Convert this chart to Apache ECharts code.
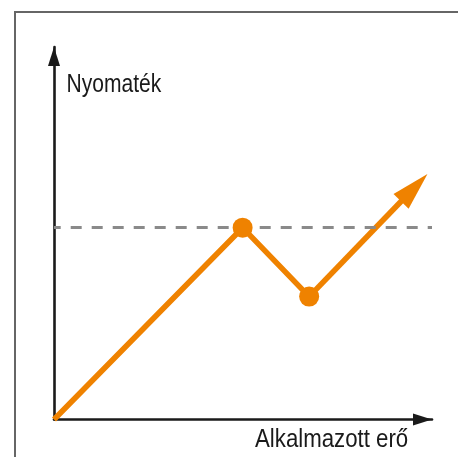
<!DOCTYPE html>
<html>
<head>
<meta charset="utf-8">
<script src="https://cdn.jsdelivr.net/npm/echarts@6/dist/echarts.min.js"></script>
<style>
  html, body { margin: 0; padding: 0; background: #fff; }
  #chart { width: 458px; height: 457px; }
</style>
</head>
<body>
<div id="chart"></div>
<script>
// Torque response to applied force (schematic, arbitrary units)
const pathPoints = [[0, 0], [49.9, 51.5], [67.5, 33.0]];   // origin, peak, dip
const arrowTip = [98.8, 65.9];                               // where the rising trend points
const thresholdLevel = 51.5;                                 // dashed reference level
const thresholdSpan = [0, 100];
const yAxisTitle = 'Nyomaték';
const xAxisTitle = 'Alkalmazott erő';

const ORANGE = '#ef8200';
const AXIS = '#1a1a1a';
const FONT = '"Liberation Sans", Arial, sans-serif';
const TREND_WIDTH = 5.6;

// plain triangle pointing "up"; the axis code rotates it along each axis
const AXIS_HEAD = 'path://M6,0 L12,19 L0,19 Z';
const HEAD_LEN = 38;
const HEAD_WIDTH = 21;

const chart = echarts.init(document.getElementById('chart'), null, { renderer: 'canvas' });

const axisCommon = {
  type: 'value',
  min: 0,
  max: 100,
  axisTick: { show: false },
  axisLabel: { show: false },
  splitLine: { show: false },
  axisLine: {
    show: true,
    symbol: ['none', AXIS_HEAD],
    symbolSize: [12, 19],
    symbolOffset: [0, -9.5],
    lineStyle: { color: AXIS, width: 2.6 }
  }
};

// last leg of the trend: a thick segment finished by a triangular head at the tip
function renderTrendArrow(params, api) {
  const p0 = api.coord([api.value(0), api.value(1)]);
  const p1 = api.coord([api.value(2), api.value(3)]);
  const dx = p1[0] - p0[0];
  const dy = p1[1] - p0[1];
  const len = Math.sqrt(dx * dx + dy * dy);
  const ux = dx / len, uy = dy / len;
  const nx = -uy, ny = ux;
  const bx = p1[0] - ux * HEAD_LEN;
  const by = p1[1] - uy * HEAD_LEN;
  const hw = HEAD_WIDTH / 2;
  return {
    type: 'group',
    children: [
      {
        type: 'line',
        shape: { x1: p0[0], y1: p0[1], x2: bx + ux * 3, y2: by + uy * 3 },
        style: { stroke: ORANGE, lineWidth: TREND_WIDTH, fill: null }
      },
      {
        type: 'polygon',
        shape: { points: [[p1[0], p1[1]], [bx + nx * hw, by + ny * hw], [bx - nx * hw, by - ny * hw]] },
        style: { fill: ORANGE, stroke: null }
      }
    ]
  };
}

const lastPoint = pathPoints[pathPoints.length - 1];

chart.setOption({
  animation: false,
  grid: { left: 54, right: 26, top: 47, bottom: 37.5 },
  xAxis: axisCommon,
  yAxis: axisCommon,
  graphic: [
    {
      type: 'rect',
      shape: { x: 15, y: 12, width: 600, height: 600 },
      style: { fill: 'none', stroke: '#666', lineWidth: 2 },
      z: 0
    },
    {
      type: 'text',
      x: 66.5,
      y: 71.5,
      scaleX: 0.81,
      style: { text: yAxisTitle, font: '26px ' + FONT, fill: '#1a1a1a', verticalAlign: 'top' }
    },
    {
      type: 'text',
      x: 255,
      y: 426.5,
      scaleX: 0.855,
      style: { text: xAxisTitle, font: '26px ' + FONT, fill: '#1a1a1a', verticalAlign: 'top' }
    }
  ],
  series: [
    {
      type: 'custom',
      clip: false,
      silent: true,
      z: 4,
      renderItem: renderTrendArrow,
      encode: { x: [0, 2], y: [1, 3] },
      data: [[lastPoint[0], lastPoint[1], arrowTip[0], arrowTip[1]]]
    },
    {
      type: 'line',
      clip: false,
      data: pathPoints.map((p, i) => i === 0 ? { value: p, symbol: 'none' } : { value: p }),
      symbol: 'circle',
      symbolSize: 20,
      showSymbol: true,
      lineStyle: { color: ORANGE, width: TREND_WIDTH },
      itemStyle: { color: ORANGE },
      z: 5,
      markLine: {
        silent: true,
        animation: false,
        label: { show: false },
        emphasis: { disabled: true },
        data: [
          [
            {
              coord: [thresholdSpan[0], thresholdLevel],
              symbol: 'none',
              lineStyle: { color: '#8a8a8a', width: 3, type: [11, 10], dashOffset: 4.3 }
            },
            { coord: [thresholdSpan[1], thresholdLevel], symbol: 'none' }
          ]
        ]
      }
    }
  ]
});
</script>
</body>
</html>
